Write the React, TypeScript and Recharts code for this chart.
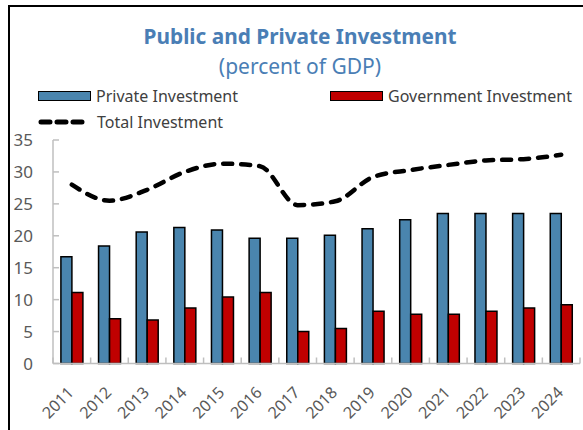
import React from "react";
import { ComposedChart, Bar, Line, XAxis, YAxis } from "recharts";

const years = ["2011","2012","2013","2014","2015","2016","2017","2018","2019","2020","2021","2022","2023","2024"];
const privateInv = [16.7,18.4,20.6,21.3,20.9,19.6,19.6,20.1,21.1,22.5,23.5,23.5,23.5,23.5];
const govInv = [11.1,7.0,6.8,8.7,10.4,11.1,5.0,5.5,8.2,7.7,7.7,8.2,8.7,9.2];
const totalInv = [28.0,25.5,27.2,30.0,31.3,30.9,24.8,25.4,29.2,30.3,31.1,31.8,32.0,32.7];
const yTicks = [0,5,10,15,20,25,30,35];
const seriesNames = ["Private Investment","Government Investment","Total Investment"];
const title = "Public and Private Investment";
const subtitle = "(percent of GDP)";

const data = years.map((y, i) => ({ year: y, priv: privateInv[i], gov: govInv[i], total: totalInv[i] }));

const W = 583, H = 430;
const M_LEFT = 0, Y_W = 53, M_RIGHT = 3;
const PLOT_W = W - M_LEFT - Y_W - M_RIGHT;
const BAND = PLOT_W / years.length;
const FONT = "'Noto Sans', 'Open Sans', sans-serif";
const AXIS_C = "#bfbfbf";
const TXT_C = "#595959";
const BLUE = "#4a85ae";
const RED = "#c00000";
const TITLE_C = "#4a7eb5";

const XTick = (props: any) => {
  const { x, y, payload, index } = props;
  const half = BAND / 2;
  const ex = x + 3, ey = y + 30;
  return (
    <g>
      <line x1={x - half} x2={x - half} y1={y} y2={y - 6} stroke={AXIS_C} strokeWidth={1.5} />
      {index === years.length - 1 && (
        <line x1={x + half} x2={x + half} y1={y} y2={y - 6} stroke={AXIS_C} strokeWidth={1.5} />
      )}
      <text x={ex} y={ey} textAnchor="end" transform={`rotate(-45, ${ex}, ${ey})`} fill={TXT_C} fontSize={16} fontFamily={FONT}>
        {payload.value}
      </text>
    </g>
  );
};

const YTick = (props: any) => {
  const { x, y, payload } = props;
  return (
    <g>
      <line x1={x} x2={x + 6} y1={y} y2={y} stroke={AXIS_C} strokeWidth={1.5} />
      <text x={x - 20} y={y + 6} textAnchor="end" fill={TXT_C} fontSize={17} fontFamily={FONT}>
        {payload.value}
      </text>
    </g>
  );
};

export default function App() {
  return (
    <div style={{ position: "absolute", left: 0, top: 0, width: W, height: H, overflow: "hidden", background: "#fff", fontFamily: FONT }}>
      <div style={{ position: "absolute", left: 8, top: 5, width: 700, height: 600, borderLeft: "2px solid #000", borderTop: "2px solid #000" }} />
      <div style={{ position: "absolute", left: 0, width: 600, top: 22, textAlign: "center", color: TITLE_C, fontWeight: 700, fontSize: 20.8, lineHeight: "28px" }}>
        {title}
      </div>
      <div style={{ position: "absolute", left: 0, width: 600, top: 52, textAlign: "center", color: TITLE_C, fontSize: 21, lineHeight: "28px" }}>
        {subtitle}
      </div>
      <div style={{ position: "absolute", left: 38, top: 85, display: "flex", alignItems: "center", color: "#404040", fontSize: 16 }}>
        <span style={{ display: "inline-block", width: 51, height: 8, background: BLUE, border: "1.5px solid #000", marginRight: 5 }} />
        <span>{seriesNames[0]}</span>
      </div>
      <div style={{ position: "absolute", left: 330, top: 85, display: "flex", alignItems: "center", color: "#404040", fontSize: 16 }}>
        <span style={{ display: "inline-block", width: 51, height: 8, background: RED, border: "1.5px solid #000", marginRight: 5 }} />
        <span>{seriesNames[1]}</span>
      </div>
      <div style={{ position: "absolute", left: 38, top: 111, display: "flex", alignItems: "center", color: "#404040", fontSize: 16 }}>
        <svg width={54} height={10} style={{ marginRight: 5 }}>
          <line x1={3} x2={46} y1={5} y2={5} stroke="#000" strokeWidth={5} strokeDasharray="9 7" strokeLinecap="round" />
        </svg>
        <span>{seriesNames[2]}</span>
      </div>
      <div style={{ position: "absolute", left: 0, top: 0 }}>
        <ComposedChart width={W} height={H} data={data} margin={{ top: 140, right: M_RIGHT, bottom: 0, left: M_LEFT }} barCategoryGap="21%" barGap={0}>
          <XAxis dataKey="year" height={66.5} tickSize={0} tickMargin={0} tickLine={false} axisLine={{ stroke: AXIS_C, strokeWidth: 1.5 }} tick={<XTick />} interval={0} />
          <YAxis width={Y_W} domain={[0, 35]} ticks={yTicks} tickSize={0} tickMargin={0} tickLine={false} axisLine={{ stroke: AXIS_C, strokeWidth: 1.5 }} tick={<YTick />} interval={0} />
          <Bar dataKey="priv" name={seriesNames[0]} fill={BLUE} stroke="#000" strokeWidth={1.5} isAnimationActive={false} />
          <Bar dataKey="gov" name={seriesNames[1]} fill={RED} stroke="#000" strokeWidth={1.5} isAnimationActive={false} />
          <Line dataKey="total" name={seriesNames[2]} type="monotone" stroke="#000" strokeWidth={4.5} strokeDasharray="9 9" strokeLinecap="round" dot={false} isAnimationActive={false} />
        </ComposedChart>
      </div>
    </div>
  );
}
